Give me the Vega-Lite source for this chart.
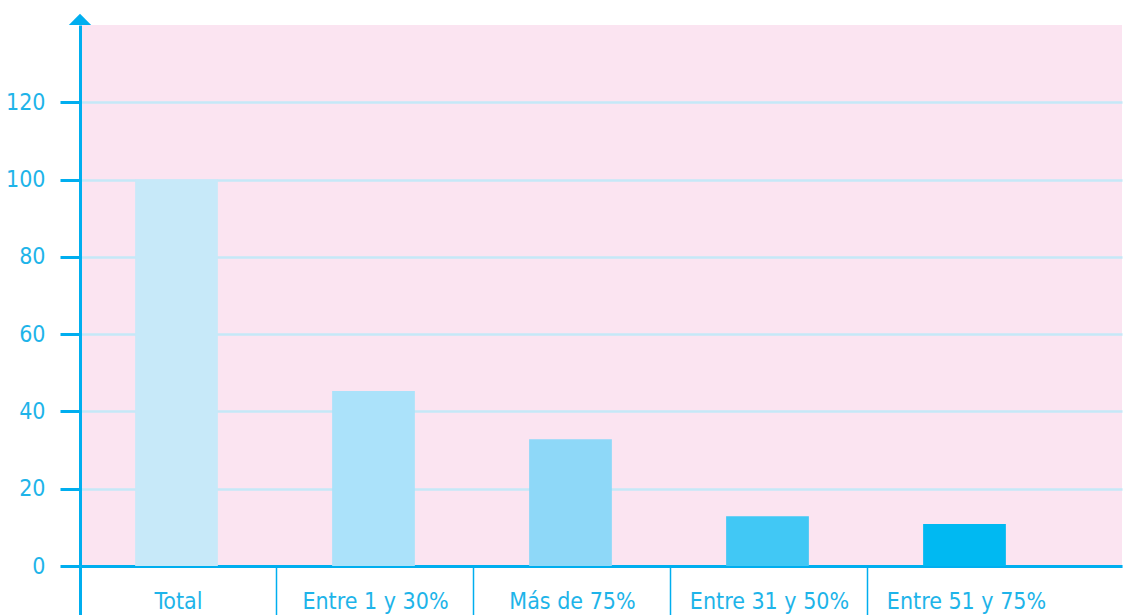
{
  "$schema": "https://vega.github.io/schema/vega-lite/v6.json",
  "width": 1042,
  "height": 541,
  "autosize": {"type": "none"},
  "padding": {"left": 80, "top": 25, "right": 7, "bottom": 49},
  "background": "#ffffff",
  "config": {
    "view": {"fill": "#FBE4F1", "stroke": null},
    "font": "DejaVu Sans Condensed, Roboto, sans-serif"
  },
  "data": {
    "values": [
      {"categoria": "Total", "valor": 100},
      {"categoria": "Entre 1 y 30%", "valor": 45.3},
      {"categoria": "Más de 75%", "valor": 32.8},
      {"categoria": "Entre 31 y 50%", "valor": 12.9},
      {"categoria": "Entre 51 y 75%", "valor": 10.9}
    ]
  },
  "layer": [
    {
      "mark": {"type": "bar", "width": {"band": 0.42}, "xOffset": -2},
      "encoding": {
        "x": {
          "field": "categoria",
          "type": "nominal",
          "sort": null,
          "scale": {
            "domain": ["Total", "Entre 1 y 30%", "Más de 75%", "Entre 31 y 50%", "Entre 51 y 75%"],
            "paddingInner": 0, "paddingOuter": 0.1447, "align": 0
          },
          "axis": {
            "title": null,
            "labelAngle": 0,
            "labelFont": "DejaVu Sans Condensed, Roboto, sans-serif",
            "labelFontSize": 23,
            "labelColor": "#1EB4E9",
            "labelPadding": -26,
            "bandPosition": 0,
            "tickSize": 50,
            "tickColor": "#00AEEF",
            "tickWidth": {"condition": {"test": "datum.value === 'Total'", "value": 3}, "value": 1.5},
            "domainColor": "#00AEEF",
            "domainWidth": 3,
            "grid": false
          }
        },
        "y": {
          "field": "valor",
          "type": "quantitative",
          "scale": {"domain": [0, 140], "nice": false},
          "axis": {
            "title": null,
            "values": [0, 20, 40, 60, 80, 100, 120],
            "labelFont": "DejaVu Sans Condensed, Roboto, sans-serif",
            "labelFontSize": 23,
            "labelColor": "#1EB4E9",
            "labelPadding": 15,
            "tickSize": 20,
            "tickWidth": 3,
            "tickColor": "#00AEEF",
            "domainColor": "#00AEEF",
            "domainWidth": 3,
            "grid": true,
            "gridColor": "#C5E8F7",
            "gridWidth": 2.5
          }
        },
        "color": {
          "field": "categoria",
          "type": "nominal",
          "sort": null,
          "scale": {
            "domain": ["Total", "Entre 1 y 30%", "Más de 75%", "Entre 31 y 50%", "Entre 51 y 75%"],
            "range": ["#C7E9F9", "#ABE2FA", "#8ED8F8", "#41C8F5", "#00B9F2"]
          },
          "legend": null
        }
      }
    },
    {
      "data": {"values": [{"categoria": "Total", "valor": 140}]},
      "mark": {"type": "point", "shape": "M-1,0L1,0L0,-1Z", "size": 500, "filled": true, "color": "#00AEEF", "opacity": 1},
      "encoding": {
        "x": {"field": "categoria", "type": "nominal", "bandPosition": 0},
        "y": {"field": "valor", "type": "quantitative"}
      }
    }
  ]
}
